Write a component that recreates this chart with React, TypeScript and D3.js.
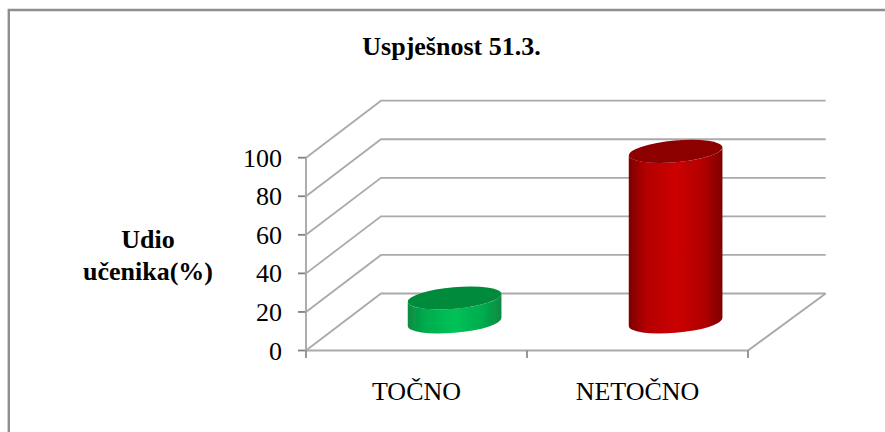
import React from "react";
import * as d3 from "d3";

const categories = ["TOČNO", "NETOČNO"];
const values = [12.5, 88.5];
const yTicks = [0, 20, 40, 60, 80, 100];
const barColors = [
  { edge: "#0a8a42", inner: "#03ab4d", mid: "#00c257", top: "#028a3b" },
  { edge: "#7d0000", inner: "#b20000", mid: "#cc0000", top: "#8c0000" },
];
const titleText = "Uspješnost 51.3.";
const yTitleLines = ["Udio", "učenika(%)"];

const W = 885;
const H = 432;
const depth = { dx: 75, dy: -57 };
const x = d3.scaleBand<string>().domain(categories).range([306, 748]);
const y = d3.scaleLinear().domain([0, 100]).range([350.5, 157.7]);

const RX = 47;
const RY = 10.8;
const ROT = -5;

function cylinder(cx: number, yBase: number, yTop: number) {
  const a = (ROT * Math.PI) / 180;
  const t = Math.atan2(-RY * Math.sin(a), RX * Math.cos(a));
  const ex = RX * Math.cos(t) * Math.cos(a) - RY * Math.sin(t) * Math.sin(a);
  const ey = RX * Math.cos(t) * Math.sin(a) + RY * Math.sin(t) * Math.cos(a);
  return (
    `M${cx - ex},${yTop - ey}L${cx - ex},${yBase - ey}` +
    `A${RX},${RY} ${ROT} 0 0 ${cx + ex},${yBase + ey}` +
    `L${cx + ex},${yTop + ey}` +
    `A${RX},${RY} ${ROT} 0 1 ${cx - ex},${yTop - ey}Z`
  );
}

export default function App() {
  const bw = x.bandwidth();
  const [y0, yMax] = y.range();
  const x0 = x.range()[0];
  const x1 = x.range()[1];
  return (
    <svg
      width={W}
      height={H}
      viewBox={`0 0 ${W} ${H}`}
      style={{ position: "absolute", left: 0, top: 0, background: "#fff" }}
      fontFamily="'Liberation Serif', serif"
    >
      <defs>
        <filter id="soft" x="-5%" y="-5%" width="110%" height="110%">
          <feGaussianBlur stdDeviation="0.5" />
        </filter>
        {barColors.map((c, i) => (
          <linearGradient key={i} id={`bar${i}`} x1="0" x2="1" y1="0" y2="0">
            <stop offset="0" stopColor={c.edge} />
            <stop offset="0.18" stopColor={c.inner} />
            <stop offset="0.5" stopColor={c.mid} />
            <stop offset="0.8" stopColor={c.inner} />
            <stop offset="1" stopColor={c.edge} />
          </linearGradient>
        ))}
      </defs>
      <path d={`M8.8,${H}L8.8,10L${W},10`} fill="none" stroke="#8e8e8e" strokeWidth={2.4} />
      <g filter="url(#soft)">
        {yTicks.map((t) => (
          <g key={t} fill="none" stroke="#aaaaaa" strokeWidth={1.8}>
            <path
              d={`M${x0},${y(t)}L${x0 + depth.dx},${y(t) + depth.dy}L${x1 + depth.dx + 2.7},${y(t) + depth.dy}`}
            />
            <path d={`M298,${y(t)}L${x0},${y(t)}`} stroke="#808080" />
          </g>
        ))}
        <path d={`M${x0},${yMax}L${x0},${y0}L${x1},${y0}L${x1 + depth.dx + 2.7},${y0 + depth.dy}`} fill="none" stroke="#aaaaaa" strokeWidth={1.9} />
        {[x0, x0 + bw, x1].map((tx) => (
          <path key={tx} d={`M${tx},${y0}L${tx},358`} stroke="#808080" strokeWidth={1.6} />
        ))}
        {categories.map((c, i) => {
          const cx = x(c)! + bw / 2 + depth.dx / 2 + 0.6;
          const yb = y0 + depth.dy / 2;
          const yt = y(values[i]) + depth.dy / 2;
          return (
            <g key={c}>
              <path d={cylinder(cx, yb, yt)} fill={`url(#bar${i})`} />
              <ellipse
                cx={cx}
                cy={yt}
                rx={RX}
                ry={RY}
                transform={`rotate(${ROT} ${cx} ${yt})`}
                fill={barColors[i].top}
              />
            </g>
          );
        })}
      </g>
      {yTicks.map((t) => (
        <text key={t} x={282} y={y(t) + 9} textAnchor="end" fontSize={26} fill="#000">
          {t}
        </text>
      ))}
      {categories.map((c) => (
        <text key={c} x={x(c)! + bw / 2} y={400} textAnchor="middle" fontSize={26} fill="#000">
          {c}
        </text>
      ))}
      <text x={451.5} y={55} textAnchor="middle" fontSize={26} fontWeight="bold" fill="#000">
        {titleText}
      </text>
      {yTitleLines.map((l, i) => (
        <text key={l} x={148} y={248 + i * 32} textAnchor="middle" fontSize={26} fontWeight="bold" fill="#000">
          {l}
        </text>
      ))}
    </svg>
  );
}
